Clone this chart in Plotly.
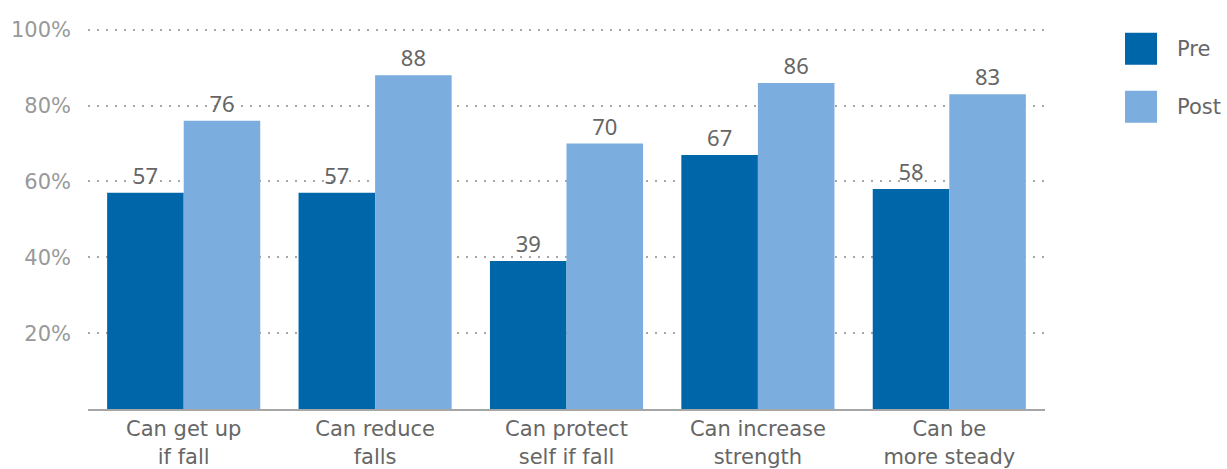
import plotly.graph_objects as go

categories = ["Can get up<br>if fall", "Can reduce<br>falls", "Can protect<br>self if fall",
              "Can increase<br>strength", "Can be<br>more steady"]
pre_values = [57, 57, 39, 67, 58]
post_values = [76, 88, 70, 86, 83]
series_names = ["Pre", "Post"]
y_ticks = [20, 40, 60, 80, 100]
y_tick_labels = ["20%", "40%", "60%", "80%", "100%"]

PRE_COLOR = "#0066AA"
POST_COLOR = "#7BAEDE"
TEXT_COLOR = "#666666"
AXIS_TEXT = "#999999"
FONT = "Noto Sans"
TICK_FONT = "DejaVu Sans"
FS = 22
TFS = 21

fig = go.Figure()
for name, vals, col in [(series_names[0], pre_values, PRE_COLOR), (series_names[1], post_values, POST_COLOR)]:
    fig.add_trace(go.Bar(
        x=categories, y=vals, name=name, marker=dict(color=col, line=dict(width=0)),
        text=[str(v) for v in vals], textposition="outside", cliponaxis=False,
        textfont=dict(size=FS, color=TEXT_COLOR, family=FONT), showlegend=False,
    ))

W, H = 1227, 469
L, R, B = 88, 182, 60
YMAX = 101
# 100% gridline at y=30 px
ph = (H - B - 30) * YMAX / 100.0
T = H - B - ph
pw = W - L - R

fig.update_layout(
    width=W, height=H, margin=dict(l=L, r=R, t=T, b=B, autoexpand=False),
    paper_bgcolor="white", plot_bgcolor="white",
    barmode="group", bargap=0.2, bargroupgap=0,
    font=dict(family=FONT, size=FS, color=TEXT_COLOR),
    showlegend=False,
    xaxis=dict(showline=True, linecolor="#A6A6A6", linewidth=2, ticks="", automargin=False,
               tickfont=dict(size=TFS, color=TEXT_COLOR, family=TICK_FONT), showgrid=False),
    yaxis=dict(range=[0, YMAX], tickvals=y_ticks, ticktext=y_tick_labels, automargin=False,
               tickfont=dict(size=TFS, color=AXIS_TEXT, family=TICK_FONT),
               showgrid=True, gridcolor="#A6A6A6", gridwidth=2, griddash="2px,7px",
               zeroline=False, showline=False, ticks="", ticklabelstandoff=16),
)

# legend drawn manually (large square swatches)
for i, (name, col) in enumerate([(series_names[0], PRE_COLOR), (series_names[1], POST_COLOR)]):
    xa = (1125 - L) / pw
    ytop = 33 + i * 58
    ya = (H - B - ytop) / ph
    fig.add_shape(type="rect", xref="paper", yref="paper", xsizemode="pixel", ysizemode="pixel",
                  xanchor=xa, yanchor=ya, x0=0, x1=32, y0=0, y1=-32,
                  fillcolor=col, line=dict(width=0))
    fig.add_annotation(xref="paper", yref="paper", x=(1175 - L) / pw, y=(H - B - ytop - 16) / ph,
                       text=name, showarrow=False, xanchor="left", yanchor="middle",
                       font=dict(size=TFS, color=TEXT_COLOR, family=TICK_FONT))

fig.write_html("out.html")
